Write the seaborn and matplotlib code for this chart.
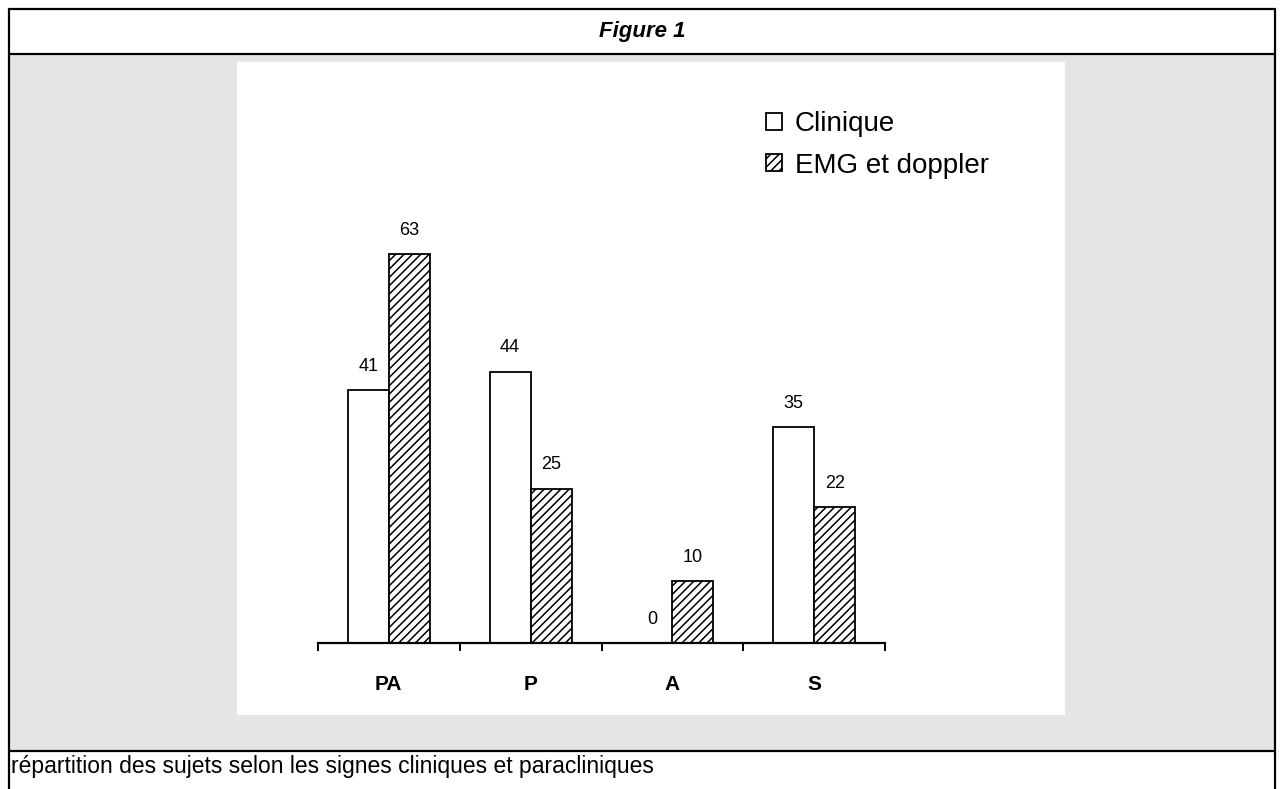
import matplotlib
matplotlib.use("Agg")
import matplotlib.pyplot as plt
from matplotlib.patches import Rectangle, Patch
from matplotlib.lines import Line2D
import seaborn as sns
import pandas as pd

# --- data -------------------------------------------------------------
categories = ["PA", "P", "A", "S"]
clinique = [41, 44, 0, 35]
emg_doppler = [63, 25, 10, 22]
series_names = ["Clinique", "EMG et doppler"]

title_text = "Figure 1"
caption_text = "répartition des sujets selon les signes cliniques et paracliniques"

df = pd.DataFrame({
    "categorie": categories * 2,
    "valeur": clinique + emg_doppler,
    "serie": [series_names[0]] * len(categories) + [series_names[1]] * len(categories),
})

# --- figure layout (pixel helpers) ------------------------------------
W, H = 1284, 789
sns.set_theme(style="white")
plt.rcParams["font.family"] = ["Liberation Sans", "DejaVu Sans"]
plt.rcParams["text.color"] = "black"
plt.rcParams["hatch.linewidth"] = 1.1

fig = plt.figure(figsize=(W / 100, H / 100), dpi=100)
fig.patch.set_facecolor("white")


def fx(px):
    return px / W


def fy(py):
    return 1 - py / H


tf = fig.transFigure
grey = "#e5e5e5"

# grey content band with white chart panel
fig.patches.append(Rectangle((fx(9), fy(751)), fx(1275) - fx(9), fy(54) - fy(751),
                             transform=tf, facecolor=grey, edgecolor="none", zorder=0))
fig.patches.append(Rectangle((fx(237), fy(715)), fx(1065) - fx(237), fy(62) - fy(715),
                             transform=tf, facecolor="white", edgecolor="none", zorder=0))

# table frame lines
lw = 1.6
for (x0, y0, x1, y1) in [(9, 9, 1275, 9), (9, 54, 1275, 54), (9, 751, 1275, 751),
                         (9, 9, 9, 789), (1275, 9, 1275, 789)]:
    fig.lines.append(Line2D([fx(x0), fx(x1)], [fy(y0), fy(y1)], transform=tf,
                            color="black", linewidth=lw, zorder=1))

fig.text(fx(642), fy(31), title_text, ha="center", va="center", color="black",
         fontsize=16, fontweight="bold", fontstyle="italic",
         family=["Liberation Sans Narrow", "Liberation Sans", "DejaVu Sans"])
fig.text(fx(11), fy(766), caption_text, ha="left", va="center", fontsize=16.5,
         color="black")

# --- chart axes --------------------------------------------------------
ymax = 90
px_per_unit = 6.17
ax_left, ax_right, ax_base = 318, 885, 643
ax_top = ax_base - ymax * px_per_unit
ax = fig.add_axes([fx(ax_left), fy(ax_base), fx(ax_right) - fx(ax_left), fy(ax_top) - fy(ax_base)])
ax.set_facecolor("none")
ax.set_zorder(3)

sns.barplot(data=df, x="categorie", y="valeur", hue="serie", order=categories,
            hue_order=series_names, palette=["white", "white"], edgecolor="black",
            linewidth=1.3, width=0.58, saturation=1, legend=False, ax=ax, zorder=3)

hatches = ["", "////"]
for cont, h in zip(ax.containers, hatches):
    for bar in cont:
        bar.set_hatch(h)
    ax.bar_label(cont, padding=11, fontsize=13, color="black")

ax.set_xlim(-0.5, len(categories) - 0.5)
ax.set_ylim(0, ymax)
ax.set_xlabel("")
ax.set_ylabel("")
ax.set_yticks([])
for s in ["top", "right", "left"]:
    ax.spines[s].set_visible(False)
ax.spines["bottom"].set_color("black")
ax.spines["bottom"].set_linewidth(1.6)
ax.spines["bottom"].set_zorder(4)

ax.set_xticks(range(len(categories)))
ax.set_xticklabels(categories, fontsize=15, fontweight="bold", color="black")
ax.set_xticks([i - 0.5 for i in range(len(categories) + 1)], minor=True)
ax.tick_params(axis="x", which="major", length=0, pad=23)
ax.tick_params(axis="x", which="minor", bottom=True, length=6, width=1.4,
               color="black", direction="out")

# --- legend ------------------------------------------------------------
handles = [Patch(facecolor="white", edgecolor="black", hatch=h, linewidth=1.3)
           for h in hatches]
leg = fig.legend(handles, series_names, loc="upper left",
                 bbox_to_anchor=(fx(766), fy(111)), frameon=False, fontsize=20,
                 handlelength=0.58, handleheight=0.58, handletextpad=0.45,
                 labelspacing=0.56, borderpad=0, borderaxespad=0, labelcolor="black")
leg.set_zorder(5)

fig.savefig("out.png", dpi=100)
